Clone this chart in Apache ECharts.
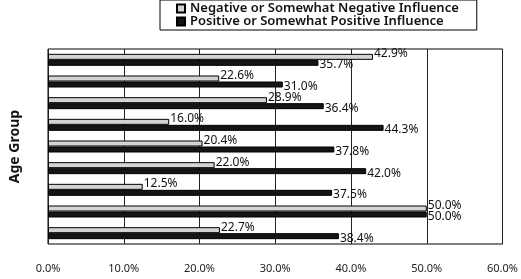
<!DOCTYPE html>
<html>
<head>
<meta charset="utf-8">
<script src="https://cdn.jsdelivr.net/npm/echarts@6/dist/echarts.min.js"></script>
<style>
  html, body { margin: 0; padding: 0; background: #fff; }
  #chart { width: 521px; height: 279px; }
</style>
</head>
<body>
<div id="chart"></div>
<script>
// age groups (no labels printed on the original)
var ageGroups = ['1', '2', '3', '4', '5', '6', '7', '8', '9'];
var negative = [42.9, 22.6, 28.9, 16.0, 20.4, 22.0, 12.5, 50.0, 22.7];
var positive = [35.7, 31.0, 36.4, 44.3, 37.8, 42.0, 37.5, 50.0, 38.4];
var xTicks = [0, 10, 20, 30, 40, 50, 60];

var seriesNames = ['Negative or Somewhat Negative Influence', 'Positive or Somewhat Positive Influence'];
var font = 'Noto Sans';

var chart = echarts.init(document.getElementById('chart'), null, { renderer: 'canvas' });

function pct(p) {
  return Number(p.value).toFixed(1) + '%';
}

var option = {
  animation: false,
  textStyle: { fontFamily: font },
  legend: {
    data: seriesNames,
    orient: 'vertical',
    left: 160,
    top: 0,
    icon: 'rect',
    itemWidth: 8,
    itemHeight: 8,
    itemGap: 0,
    padding: [2, 18, 2, 16],
    borderColor: '#000',
    borderWidth: 1,
    backgroundColor: '#fff',
    textStyle: { fontFamily: font, fontSize: 13, fontWeight: 600, color: '#111' }
  },
  grid: {
    left: 47,
    right: 17,
    top: 49,
    bottom: 35,
    show: true,
    borderColor: '#000',
    borderWidth: 1,
    containLabel: false
  },
  xAxis: {
    type: 'value',
    min: xTicks[0],
    max: xTicks[xTicks.length - 1],
    interval: 10,
    axisLine: { show: false },
    axisTick: { show: false },
    splitLine: { show: true, lineStyle: { color: '#222', width: 1 } },
    axisLabel: {
      margin: 19,
      fontSize: 11,
      color: '#222',
      formatter: function (v) { return v.toFixed(1) + '%'; }
    }
  },
  yAxis: {
    type: 'category',
    data: ageGroups,
    inverse: true,
    name: 'Age Group',
    nameLocation: 'middle',
    nameGap: 26,
    nameTextStyle: { fontFamily: font, fontSize: 14, fontWeight: 'bold', color: '#111' },
    axisLine: { show: false },
    axisTick: { show: false },
    axisLabel: { show: false }
  },
  series: [{
    name: seriesNames[0],
    type: 'bar',
    data: negative,
    barWidth: 6,
    barGap: '0%',
    itemStyle: { color: '#d4d4d4', borderColor: '#000', borderWidth: 1 },
    label: {
      show: true,
      position: 'right',
      distance: 1,
      offset: [0, -3],
      fontSize: 12,
      color: '#111',
      formatter: pct
    }
  }, {
    name: seriesNames[1],
    type: 'bar',
    data: positive,
    barWidth: 6,
    barGap: '0%',
    itemStyle: { color: '#151515', borderColor: '#000', borderWidth: 1 },
    label: {
      show: true,
      position: 'right',
      distance: 1,
      offset: [0, 2],
      fontSize: 12,
      color: '#111',
      formatter: pct
    }
  }]
};

chart.setOption(option);
</script>
</body>
</html>
